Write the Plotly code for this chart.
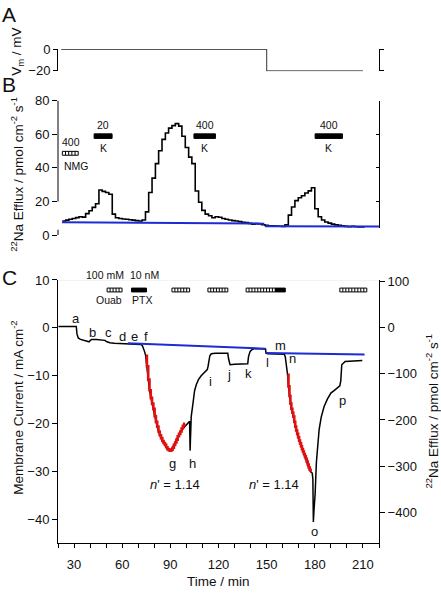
import plotly.graph_objects as go

# ---------------- data ----------------
# Panel A: membrane potential (mV) vs time (min)
vm_time = [22, 150, 150, 210]
vm_value = [0, 0, -20, -20]

# Panel B: 22Na efflux histogram (bin start times, min) and values (pmol cm-2 s-1)
efflux_bin_start = [22.7, 24.8, 26.8, 28.9, 31.0, 33.1, 35.1, 37.2, 39.3, 41.3,
                    43.4, 45.5, 47.5, 49.6, 51.7, 53.8, 55.8, 57.9, 60.0, 62.0,
                    64.1, 66.2, 68.2, 70.3, 72.4, 74.5, 76.5, 78.6, 80.7, 82.7,
                    84.8, 86.9, 88.9, 91.0, 93.1, 95.2, 97.2, 99.3, 101.4, 103.4,
                    105.5, 107.6, 109.6, 111.7, 113.8, 115.9, 117.9, 120.0, 122.1, 124.1,
                    126.2, 128.3, 130.3, 132.4, 134.5, 136.6, 138.6, 140.7, 142.8, 144.8,
                    146.9, 149.0, 151.0, 153.1, 155.2, 157.3, 159.3, 161.4, 163.5, 165.5,
                    167.6, 169.7, 171.7, 173.8, 175.9, 177.9, 180.0, 182.1, 184.2, 186.2,
                    188.3, 190.4, 192.4, 194.5, 196.6, 198.6, 200.7, 202.8, 204.9, 206.9,
                    209.0, 211.0]
efflux_value = [8.4, 8.9, 9.4, 9.9, 10.4, 10.9, 10.7, 12.8, 14.5, 16.5,
                18.6, 26.8, 26.0, 25.3, 24.3, 12.5, 10.3, 9.9, 9.6, 9.4,
                9.1, 8.9, 8.6, 8.4, 9.0, 13.8, 25.3, 33.9, 42.5, 50.2,
                56.9, 60.7, 63.6, 65.1, 66.3, 64.8, 58.8, 52.1, 46.4, 42.5,
                26.2, 19.5, 14.7, 12.5, 11.5, 10.3, 10.9, 10.6, 9.9, 9.4,
                9.0, 8.6, 8.4, 8.0, 7.6, 7.4, 7.0, 6.5, 6.8, 6.7,
                6.2, 5.8, 5.6, 5.5, 5.4, 5.3, 5.2, 6.1, 11.9, 16.7,
                20.5, 22.2, 23.4, 25.0, 26.3, 28.2, 15.7, 10.9, 9.0, 7.8,
                7.1, 6.5, 6.1, 5.8, 5.5, 5.2, 5.0, 5.2, 5.0, 4.9,
                4.9, 4.9]
efflux_base_time = [22.5, 148.5, None, 149.0, 220.0]
efflux_base_value = [7.6, 6.8, None, 5.3, 5.1]

# Panel C: membrane current (mA cm-2) vs time (min)
current_trace = [
    (20.3, 0.3), (31.4, 0.3), (31.8, -1.2), (32.6, -2.1), (34.0, -2.4), (36.0, -2.6),
    (38.0, -2.8), (39.4, -2.9), (40.2, -2.6), (40.9, -2.4), (44.0, -2.4), (47.0, -2.5),
    (49.2, -2.6), (50.5, -2.9), (52.3, -3.1), (55.0, -3.2), (60.0, -3.25), (63.5, -3.3),
    (68.0, -3.35), (71.6, -3.45), (72.6, -3.7), (73.4, -4.3), (74.0, -5.0), (74.6, -5.8),
    (75.4, -8.0), (76.2, -10.8), (77.0, -13.0), (78.6, -15.8), (80.2, -18.4), (81.8, -20.6),
    (83.4, -22.4), (85.0, -23.6), (86.6, -24.4), (88.2, -25.3), (89.6, -25.6), (91.0, -25.2),
    (92.6, -24.2), (94.2, -23.0), (95.8, -21.9), (97.4, -21.2), (99.0, -20.6), (100.5, -20.1),
    (102.0, -19.5), (102.3, -25.6), (102.6, -19.8), (103.0, -18.5), (104.0, -16.0), (105.1, -13.1),
    (106.2, -11.8), (107.5, -10.8), (109.2, -10.0), (111.0, -9.3), (113.0, -8.7), (113.5, -8.0),
    (114.0, -6.6), (114.6, -5.8), (115.5, -5.4), (118.0, -5.3), (122.0, -5.3), (125.8, -5.3),
    (126.3, -6.5), (127.2, -7.7), (130.0, -7.6), (134.0, -7.55), (138.2, -7.5), (138.7, -6.0),
    (139.7, -4.9), (141.0, -4.5), (142.4, -4.3), (146.0, -4.35), (149.3, -4.4), (149.6, -5.3),
    (150.6, -5.4), (156.0, -5.45), (161.0, -5.5), (161.6, -6.0), (162.2, -7.3), (163.0, -9.7),
    (163.6, -12.2), (164.2, -14.2), (165.4, -16.9), (166.6, -18.5), (167.8, -20.6), (169.0, -22.1),
    (170.2, -23.5), (171.4, -24.7), (172.6, -25.8), (173.8, -26.8), (175.0, -27.9), (176.2, -29.1),
    (177.4, -30.0), (178.4, -30.3), (178.8, -31.5), (179.1, -40.5), (179.5, -38.0), (180.2, -34.7),
    (181.0, -28.0), (182.0, -24.0), (182.7, -21.2), (184.0, -18.6), (185.8, -16.4), (187.9, -14.8),
    (190.0, -13.6), (192.0, -13.1), (195.6, -12.1), (196.2, -11.0), (196.8, -7.7), (198.9, -7.0),
    (203.0, -6.9), (209.6, -6.8)]
cur_time = [p[0] for p in current_trace]
cur_value = [p[1] for p in current_trace]

fit1_time = [74.6, 75.4, 76.2, 77.0, 77.8, 78.6, 79.4, 80.2, 81.0, 81.8, 82.6, 83.4, 84.2, 85.0,
             85.8, 86.6, 87.4, 88.2, 89.0, 89.8, 90.6, 91.4, 92.2, 93.0, 93.8, 94.6, 95.4, 96.2,
             97.0, 97.8, 98.6, 99.2]
fit1_value = [-5.8, -8.0, -10.8, -13.0, -14.6, -15.8, -16.9, -18.4, -19.6, -20.6, -21.6, -22.4, -23.0, -23.6,
              -24.0, -24.4, -24.9, -25.3, -25.5, -25.6, -25.4, -25.0, -24.4, -23.9, -23.3, -22.6, -22.1, -21.6,
              -21.0, -20.4, -20.0, -20.0]
fit2_time = [163.0, 163.6, 164.2, 164.8, 165.4, 166.0, 166.6, 167.2, 167.8, 168.4, 169.0, 169.6, 170.2,
             170.8, 171.4, 172.0, 172.6, 173.2, 173.8, 174.4, 175.0, 175.6, 176.2, 176.8, 177.4]
fit2_value = [-9.8, -12.2, -14.2, -15.8, -16.9, -17.7, -18.5, -19.6, -20.6, -21.4, -22.1, -22.8, -23.5,
              -24.1, -24.7, -25.3, -25.8, -26.3, -26.8, -27.3, -27.9, -28.5, -29.1, -29.6, -30.0]
base_time = [63.5, 149.3, None, 150.0, 211.0]
base_value = [-3.2, -4.35, None, -5.25, -5.55]

# event letters in panel C (time, current)
letter_text = ["a", "b", "c", "d", "e", "f", "g", "h", "i", "j", "k", "l", "m", "n", "o", "p"]
letter_time = [31.2, 41.6, 51.2, 59.9, 67.8, 74.7, 91.6, 103.7, 115.0, 126.4, 138.8, 150.6, 158.5, 165.8, 180.1, 197.2]
letter_value = [2.0, -1.0, -1.0, -1.7, -1.7, -1.7, -28.3, -28.3, -11.2, -9.7, -9.5, -7.3, -3.7, -6.4, -42.4, -15.1]
hill_text = ["<i>n</i>' = 1.14", "<i>n</i>' = 1.14"]
hill_time = [93.1, 154.8]
hill_value = [-32.7, -32.6]

# drug application bars, panel C (start, end, kind)
c_bar_start = [50.6, 65.8, 91.0, 113.4, 137.2, 155.4, 195.6]
c_bar_end = [59.9, 75.1, 102.0, 125.8, 155.4, 161.6, 212.4]
c_bar_kind = ["open", "solid", "open", "open", "open", "solid", "open"]
# panel B (start, end, kind)
b_bar_start = [22.7, 42.5, 104.7, 180.2]
b_bar_end = [32.6, 53.7, 118.1, 197.2]
b_bar_kind = ["open", "solid", "solid", "solid"]
b_bar_top_text = ["400", "20", "400", "400"]
b_bar_bot_text = ["NMG", "K", "K", "K"]

# ---------------- layout helpers ----------------
W, H = 441, 595
FONT = "Liberation Sans, Arial, sans-serif"
def py(y):
    return 1 - y / H

XD = [58 / W, 379 / W]
BLACK = "#000000"

fig = go.Figure()

# Panel A
fig.add_trace(go.Scatter(x=vm_time, y=vm_value, mode="lines", xaxis="x", yaxis="y",
                         line=dict(color="#555555", width=1.2), showlegend=False, hoverinfo="skip"))
fig.add_trace(go.Scatter(x=[None], y=[None], xaxis="x", yaxis="y6", showlegend=False))

# Panel B
fig.add_trace(go.Scatter(x=efflux_bin_start, y=efflux_value, mode="lines", line_shape="hv",
                         xaxis="x2", yaxis="y2", line=dict(color=BLACK, width=1.6),
                         showlegend=False, hoverinfo="skip"))
fig.add_trace(go.Scatter(x=efflux_base_time, y=efflux_base_value, mode="lines",
                         xaxis="x2", yaxis="y2", line=dict(color="#1c2bd4", width=2),
                         showlegend=False, hoverinfo="skip"))
fig.add_trace(go.Scatter(x=[None], y=[None], xaxis="x2", yaxis="y5", showlegend=False))

# Panel C
fig.add_trace(go.Scatter(x=cur_time, y=cur_value, mode="lines", xaxis="x3", yaxis="y3",
                         line=dict(color=BLACK, width=1.5), showlegend=False, hoverinfo="skip"))
fig.add_trace(go.Scatter(x=fit1_time, y=fit1_value, mode="lines", line_shape="hv",
                         xaxis="x3", yaxis="y3", line=dict(color="#e01010", width=2.6),
                         showlegend=False, hoverinfo="skip"))
fig.add_trace(go.Scatter(x=fit2_time, y=fit2_value, mode="lines", line_shape="hv",
                         xaxis="x3", yaxis="y3", line=dict(color="#e01010", width=2.6),
                         showlegend=False, hoverinfo="skip"))
fig.add_trace(go.Scatter(x=base_time, y=base_value, mode="lines",
                         xaxis="x3", yaxis="y3", line=dict(color="#1c2bd4", width=2),
                         showlegend=False, hoverinfo="skip"))
fig.add_trace(go.Scatter(x=[None], y=[None], xaxis="x3", yaxis="y4", showlegend=False))

tickfont = dict(family=FONT, size=13, color="#111111")
common_y = dict(showgrid=False, zeroline=False, showline=True, linecolor=BLACK, linewidth=1,
                ticks="outside", ticklen=5, tickwidth=1, tickcolor=BLACK, tickfont=tickfont)
hidden_x = dict(domain=XD, range=[20, 220], visible=False, fixedrange=True)

shapes = []
annotations = []

# B left broken axis line drawn as segments
for y0, y1 in [(0, 3.2), (20, 80)]:
    shapes.append(dict(type="line", xref="paper", yref="y2", x0=XD[0], x1=XD[0], y0=y0, y1=y1,
                       line=dict(color=BLACK, width=1)))
# faint top border of panel C
shapes.append(dict(type="line", xref="x3", yref="y3", x0=20, x1=220, y0=10, y1=10,
                   line=dict(color="#e4e4e4", width=1)))

def add_bar(xref, yref, x0, x1, y0, y1, kind):
    if kind == "solid":
        shapes.append(dict(type="rect", xref=xref, yref=yref, x0=x0, x1=x1, y0=y0, y1=y1,
                           fillcolor=BLACK, line=dict(color=BLACK, width=1)))
    else:
        shapes.append(dict(type="rect", xref=xref, yref=yref, x0=x0, x1=x1, y0=y0, y1=y1,
                           fillcolor="white", line=dict(color=BLACK, width=1)))
        n = max(2, int(round((x1 - x0) / 1.9)))
        for k in range(1, n):
            xx = x0 + (x1 - x0) * k / n
            shapes.append(dict(type="line", xref=xref, yref=yref, x0=xx, x1=xx, y0=y0, y1=y1,
                               line=dict(color=BLACK, width=1)))

for s, e, k in zip(c_bar_start, c_bar_end, c_bar_kind):
    add_bar("x3", "y3", s, e, 7.5, 8.3, k)
for s, e, k, tt, bt in zip(b_bar_start, b_bar_end, b_bar_kind, b_bar_top_text, b_bar_bot_text):
    if k == "open":
        add_bar("x2", "y2", s, e, 47.5, 49.8, k)
        annotations.append(dict(x=(s + e) / 2 + 0.6, y=55.3, xref="x2", yref="y2", text=tt, showarrow=False,
                                yanchor="middle", font=dict(family=FONT, size=10.5, color="#111")))
        annotations.append(dict(x=s - 0.3, y=41.0, xref="x2", yref="y2", text=bt, showarrow=False,
                                xanchor="left", yanchor="middle", font=dict(family=FONT, size=10.5, color="#111")))
    else:
        add_bar("x2", "y2", s, e, 57.5, 60.2, k)
        annotations.append(dict(x=(s + e) / 2, y=65.5, xref="x2", yref="y2", text=tt, showarrow=False,
                                yanchor="middle", font=dict(family=FONT, size=10.5, color="#111")))
        annotations.append(dict(x=(s + e) / 2, y=52.0, xref="x2", yref="y2", text=bt, showarrow=False,
                                yanchor="middle", font=dict(family=FONT, size=10.5, color="#111")))

# bar labels in panel C
for txt, t, yy in [("100 mM", 49.2, 275), ("10 nM", 73.6, 275), ("Ouab", 51.9, 300.7), ("PTX", 72.6, 300.7)]:
    annotations.append(dict(x=t, y=py(yy), xref="x3", yref="paper", text=txt, showarrow=False,
                            yanchor="middle", font=dict(family=FONT, size=10.5, color="#111")))

for txt, t, v in zip(letter_text, letter_time, letter_value):
    annotations.append(dict(x=t, y=v, xref="x3", yref="y3", text=txt, showarrow=False,
                            yanchor="middle", font=dict(family=FONT, size=13, color="#111")))
for txt, t, v in zip(hill_text, hill_time, hill_value):
    annotations.append(dict(x=t, y=v, xref="x3", yref="y3", text=txt, showarrow=False,
                            yanchor="middle", font=dict(family=FONT, size=13, color="#111")))

# panel letters
for txt, x, y in [("A", 0, 8), ("B", 0, 80), ("C", 0, 278)]:
    annotations.append(dict(x=x / W, y=py(y), xref="paper", yref="paper", text=txt, showarrow=False,
                            xanchor="left", yanchor="middle", font=dict(family=FONT, size=21, color="#111")))

# axis titles
tfont = dict(family=FONT, size=13.5, color="#111")
for txt, x, y in [("V<sub>m</sub> / mV", 18, 46),
                  ("<sup>22</sup>Na Efflux / pmol cm<sup>-2</sup> s<sup>-1</sup>", 17, 172),
                  ("Membrane Current / mA cm<sup>-2</sup>", 17, 411),
                  ("<sup>22</sup>Na Efflux / pmol cm<sup>-2</sup> s<sup>-1</sup>", 432, 415)]:
    annotations.append(dict(x=x / W, y=py(y), xref="paper", yref="paper", text=txt, showarrow=False,
                            textangle=-90, xanchor="center", yanchor="middle", font=tfont))
annotations.append(dict(x=218 / W, y=py(589), xref="paper", yref="paper", text="Time / min",
                        showarrow=False, xanchor="center", yanchor="middle", font=tfont))

fig.update_layout(
    width=W, height=H, margin=dict(l=0, r=0, t=0, b=0),
    paper_bgcolor="white", plot_bgcolor="rgba(0,0,0,0)",
    font=dict(family=FONT, size=13, color="#111"),
    showlegend=False,
    xaxis=hidden_x | dict(anchor="y"),
    xaxis2=hidden_x | dict(anchor="y2"),
    xaxis3=dict(domain=XD, range=[20, 220], anchor="y3", showgrid=False, zeroline=False,
                showline=True, linecolor=BLACK, linewidth=1, ticks="outside", ticklen=4,
                tickcolor=BLACK, tickvals=[30, 60, 90, 120, 150, 180, 210], tickfont=tickfont,
                ticklabelstandoff=5,
                minor=dict(tick0=20, dtick=10, ticks="outside", ticklen=4, tickcolor=BLACK),
                fixedrange=True),
    yaxis=common_y | dict(domain=[py(66), py(43)], range=[-20.4, 0.4], anchor="x",
                          tickvals=[0, -20], ticklen=4),
    yaxis6=dict(domain=[py(66), py(43)], range=[-20.4, 0.4], anchor="x", overlaying="y",
                side="right", showgrid=False, zeroline=False, showline=True, linecolor=BLACK,
                ticks="outside", ticklen=4, tickcolor=BLACK, tickvals=[0, -20], showticklabels=False),
    yaxis2=dict(domain=[py(234), py(96)], range=[0, 80], anchor="x2", showgrid=False,
                zeroline=False, showline=False, ticks="outside", ticklen=5, tickcolor=BLACK,
                tickvals=[0, 20, 40, 60, 80], tickfont=tickfont),
    yaxis5=dict(domain=[py(227), py(96)], range=[4.0, 80], anchor="x2", side="right",
                showgrid=False, zeroline=False, showline=True, linecolor=BLACK, ticks="inside",
                ticklen=3, tickcolor=BLACK, tickvals=[20, 40, 60, 80], showticklabels=False),
    yaxis3=common_y | dict(domain=[py(550), py(280)], range=[-44.9, 10], anchor="x3",
                           tickvals=[-40, -30, -20, -10, 0, 10]),
    yaxis4=common_y | dict(domain=[py(550), py(280)], range=[-467, 103.6], anchor="x3",
                           overlaying="y3", side="right",
                           tickvals=[-400, -300, -200, -100, 0, 100]),
    shapes=shapes,
    annotations=annotations,
)

fig.write_html("out.html", config={"displayModeBar": False, "staticPlot": True},
               post_script="document.body.style.margin='0px';document.body.style.padding='0px';")
